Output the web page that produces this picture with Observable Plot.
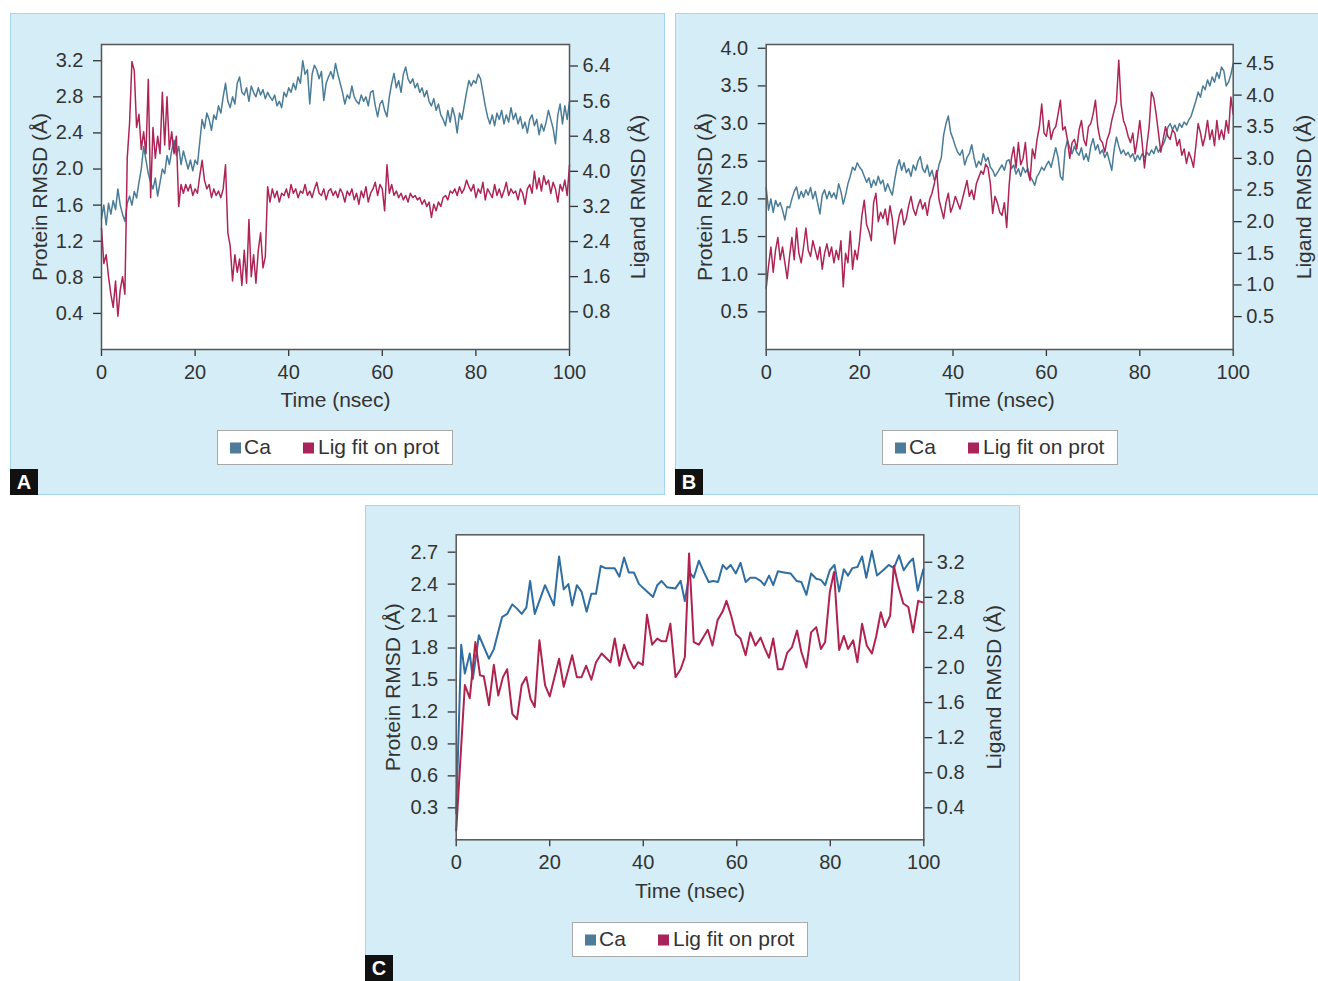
<!DOCTYPE html>
<html><head><meta charset="utf-8">
<script src="https://cdn.jsdelivr.net/npm/d3@7"></script>
<script src="https://cdn.jsdelivr.net/npm/@observablehq/plot@0.6"></script>
<style>
body{margin:0;background:#fff;font-family:"Liberation Sans",Arial,sans-serif;}
#page{position:relative;width:1318px;height:981px;overflow:hidden;}
.panel{position:absolute;background:#d5edf7;outline:1px solid #a6d6ee;outline-offset:-1px;}
.panel svg{position:absolute;left:0;top:0;}
.legend{position:absolute;left:207px;top:417px;width:236px;height:35px;background:#fff;border:1.5px solid #a9a9a9;box-sizing:border-box;font-size:21px;color:#333;}
.legend span{position:absolute;top:50%;transform:translateY(-56%);}
.legend span.sw{transform:translateY(-50%);}
.sw{width:11px;height:11px;}
.tag{position:absolute;left:0;background:#111;color:#fff;font-weight:bold;font-size:20px;width:28px;height:26px;text-align:center;line-height:27px;}
</style></head>
<body><div id="page"></div>
<script>
// ---------- data ----------
const xTicks = [0, 20, 40, 60, 80, 100];
const legendLabels = ["Ca", "Lig fit on prot"];
const yLabelLeft = "Protein RMSD (Å)";
const yLabelRight = "Ligand RMSD (Å)";
const xLabel = "Time (nsec)";

// Panel A (sampled every 0.5 ns, 0–100 ns)
const aCa = [
1.45,1.60,1.38,1.62,1.50,1.65,1.55,1.78,1.60,1.50,
1.42,1.62,1.70,1.60,1.75,1.68,1.85,2.00,2.25,2.10,
1.95,1.85,1.78,1.90,1.70,1.85,2.00,1.95,2.15,2.05,
2.20,2.32,2.15,2.25,2.05,2.20,2.10,2.00,2.10,1.98,
2.10,2.05,2.30,2.55,2.45,2.62,2.55,2.43,2.60,2.55,
2.70,2.62,2.80,2.95,2.75,2.68,2.80,2.72,2.95,3.02,
2.85,2.82,2.90,2.75,2.92,2.85,2.80,2.90,2.82,2.88,
2.78,2.85,2.80,2.76,2.82,2.70,2.75,2.68,2.85,2.80,
2.90,2.85,2.95,2.88,3.02,2.95,3.20,3.05,3.10,2.72,
3.05,3.15,3.10,3.00,3.08,2.76,2.95,3.02,3.08,3.00,
3.17,3.05,2.95,2.85,2.72,2.82,2.78,2.92,2.80,2.75,
2.72,2.82,2.75,2.80,2.70,2.85,2.87,2.70,2.58,2.72,
2.76,2.65,2.58,2.80,2.95,3.06,2.90,2.98,2.85,3.05,
3.13,3.00,2.95,3.00,2.90,2.95,2.85,2.90,2.80,2.87,
2.75,2.70,2.78,2.65,2.72,2.60,2.55,2.48,2.65,2.52,
2.68,2.58,2.40,2.62,2.55,2.70,2.85,2.98,2.92,2.98,
2.95,3.05,3.00,2.85,2.70,2.58,2.50,2.60,2.48,2.62,
2.55,2.65,2.50,2.60,2.52,2.68,2.55,2.62,2.50,2.58,
2.45,2.52,2.40,2.55,2.60,2.48,2.55,2.38,2.50,2.42,
2.52,2.65,2.55,2.45,2.28,2.60,2.72,2.50,2.70,2.55,
2.75];
const aLig = [
2.70,1.90,2.10,1.60,1.20,0.90,1.50,0.70,1.30,1.60,
1.20,4.30,5.10,6.50,6.30,5.00,5.30,4.50,4.90,4.40,
6.10,3.40,5.00,4.30,4.80,4.40,5.80,4.60,5.70,4.50,
4.90,4.40,4.80,3.20,3.70,3.50,3.70,3.55,3.70,3.45,
3.60,3.50,3.90,4.25,3.80,3.60,3.70,3.40,3.60,3.45,
3.55,3.40,3.60,4.15,2.60,2.30,1.50,2.10,1.70,2.00,
1.40,2.20,1.45,2.90,1.60,2.10,1.45,2.20,2.60,1.80,
2.05,3.65,3.30,3.60,3.40,3.55,3.30,3.50,3.45,3.60,
3.40,3.70,3.50,3.60,3.40,3.55,3.50,3.70,3.45,3.55,
3.40,3.60,3.75,3.50,3.45,3.60,3.35,3.55,3.60,3.45,
3.55,3.40,3.60,3.50,3.30,3.55,3.45,3.60,3.35,3.50,
3.25,3.55,3.40,3.65,3.30,3.50,3.60,3.75,3.45,3.70,
3.60,3.10,4.15,3.50,3.70,3.45,3.55,3.40,3.50,3.35,
3.45,3.30,3.50,3.40,3.45,3.35,3.40,3.25,3.35,3.20,
3.30,2.95,3.25,3.10,3.30,3.20,3.40,3.45,3.35,3.55,
3.50,3.60,3.45,3.65,3.50,3.60,3.80,3.65,3.55,3.70,
3.40,3.60,3.50,3.75,3.35,3.60,3.50,3.40,3.70,3.45,
3.60,3.40,3.55,3.75,3.45,3.60,3.50,3.55,3.35,3.60,
3.50,3.25,3.60,3.70,3.50,4.00,3.60,3.85,3.55,3.90,
3.70,3.80,3.50,3.75,3.60,3.30,3.70,3.55,3.80,3.45,
4.15];

// Panel B (sampled every 0.5 ns, 0–100 ns)
const bCa = [
2.15,1.85,2.00,1.82,1.98,1.90,1.95,1.85,1.72,1.90,
1.88,2.00,2.10,2.16,2.00,2.10,2.02,2.12,2.05,2.15,
2.00,2.10,1.95,1.80,2.05,2.12,2.00,2.10,2.02,2.08,
2.00,2.20,2.10,1.93,2.05,2.20,2.30,2.42,2.38,2.48,
2.42,2.38,2.30,2.22,2.28,2.15,2.25,2.18,2.30,2.20,
2.25,2.10,2.20,2.12,2.05,2.25,2.42,2.52,2.38,2.48,
2.35,2.40,2.30,2.45,2.38,2.50,2.56,2.40,2.35,2.45,
2.30,2.38,2.25,2.30,2.45,2.55,2.85,3.00,3.10,2.88,
2.80,2.70,2.62,2.58,2.65,2.45,2.55,2.60,2.72,2.55,
2.42,2.50,2.45,2.60,2.50,2.55,2.42,2.38,2.30,2.35,
2.40,2.45,2.38,2.50,2.52,2.40,2.45,2.33,2.40,2.30,
2.42,2.35,2.40,2.30,2.25,2.18,2.30,2.35,2.42,2.38,
2.45,2.50,2.42,2.55,2.68,2.55,2.30,2.25,2.65,2.78,
2.68,2.60,2.70,2.62,2.58,2.68,2.52,2.60,2.50,2.70,
2.80,2.65,2.72,2.60,2.65,2.55,2.62,2.50,2.38,2.65,
2.82,2.70,2.60,2.65,2.58,2.62,2.55,2.60,2.50,2.58,
2.52,2.60,2.55,2.62,2.58,2.65,2.60,2.70,2.62,2.68,
2.72,2.80,2.95,3.00,2.92,2.98,2.90,3.00,2.95,3.02,
2.98,3.05,3.10,3.20,3.30,3.42,3.35,3.50,3.45,3.58,
3.50,3.62,3.55,3.68,3.60,3.75,3.70,3.50,3.55,3.65,
3.80];
const bLig = [
0.95,1.30,1.60,1.20,1.55,1.75,1.40,1.60,1.35,1.10,
1.45,1.75,1.40,1.90,1.50,1.35,1.60,1.90,1.55,1.45,
1.70,1.55,1.40,1.60,1.25,1.50,1.65,1.45,1.60,1.35,
1.55,1.40,1.70,0.97,1.50,1.35,1.85,1.25,1.55,1.40,
1.70,2.10,2.34,1.95,1.85,1.70,2.30,2.45,2.00,2.15,
2.05,2.20,1.95,2.25,2.05,1.65,1.90,2.10,2.20,1.95,
2.05,2.25,2.40,2.20,2.10,2.25,2.35,2.20,2.30,2.10,
2.35,2.45,2.60,2.81,2.35,2.20,2.05,2.30,2.45,2.15,
2.25,2.40,2.30,2.20,2.35,2.50,2.65,2.40,2.50,2.35,
2.60,2.70,2.80,2.75,2.91,2.85,2.60,2.13,2.40,2.30,
2.15,2.10,2.30,1.91,2.55,3.00,3.18,2.85,3.25,2.90,
3.00,3.25,2.80,2.65,3.15,3.00,3.30,3.50,3.86,3.40,
3.35,3.60,3.30,3.45,3.50,3.70,3.92,3.45,3.50,3.30,
3.00,3.25,3.30,3.15,3.45,3.60,3.30,3.20,3.50,3.55,
3.70,3.92,3.50,3.30,3.25,3.10,3.30,3.40,3.60,3.75,
3.90,4.55,3.85,3.60,3.50,3.35,3.25,3.40,3.07,3.30,
3.60,3.25,2.85,3.20,3.50,4.05,3.95,3.70,3.40,3.10,
3.30,3.50,3.35,3.30,3.45,3.40,3.20,3.30,3.05,3.15,
2.92,3.10,3.00,2.86,3.20,3.55,3.40,3.20,3.35,3.60,
3.30,3.45,3.20,3.60,3.30,3.45,3.30,3.60,3.40,3.97,
3.70];

// Panel C
const cCaTime = [0,1.07,1.85,2.9,3.56,4.85,7.0,8.05,9.8,10.9,12.0,13.0,14.0,15.0,15.8,16.8,19.0,20.9,22.0,23.0,24.0,24.8,25.8,26.8,27.9,28.9,29.9,30.9,31.9,33.9,34.9,35.9,36.9,38.0,39.1,41.1,42.1,43.0,43.9,45.1,46.9,48.0,48.9,49.9,50.8,51.9,53.0,54.0,55.0,56.0,57.0,57.8,58.7,59.8,60.8,61.9,62.9,64.0,65.1,65.9,66.9,67.8,68.8,70.1,71.5,72.8,73.8,74.9,75.9,77.0,78.0,78.9,79.9,80.9,81.9,82.9,83.8,84.7,85.8,86.8,87.7,88.9,90.0,91.3,92.5,93.6,94.7,95.7,96.8,97.7,98.7,99.9];
const cCa = [0.25,1.83,1.56,1.75,1.51,1.92,1.70,1.79,2.09,2.12,2.21,2.17,2.12,2.18,2.43,2.12,2.39,2.20,2.66,2.35,2.40,2.20,2.39,2.33,2.14,2.31,2.31,2.57,2.55,2.55,2.47,2.65,2.51,2.51,2.40,2.32,2.28,2.39,2.43,2.37,2.36,2.43,2.24,2.51,2.46,2.62,2.51,2.42,2.43,2.42,2.58,2.54,2.58,2.50,2.60,2.42,2.46,2.46,2.43,2.39,2.48,2.39,2.52,2.51,2.50,2.43,2.42,2.30,2.50,2.45,2.44,2.39,2.53,2.58,2.33,2.54,2.48,2.55,2.56,2.66,2.46,2.71,2.48,2.53,2.58,2.55,2.67,2.53,2.60,2.64,2.34,2.54];
const cLigTime = [0,1.85,2.9,4.1,5.1,5.9,7.0,8.05,9.0,10.0,10.9,12.0,13.0,14.0,15.0,15.9,16.8,17.8,19.0,20.0,22.0,23.0,24.8,25.8,26.8,27.8,28.9,29.9,31.1,33.0,33.9,34.9,35.9,36.9,38.0,38.9,39.9,40.8,41.9,43.0,43.9,44.9,45.8,46.9,48.0,48.9,49.8,50.8,51.9,53.0,53.8,54.8,55.9,57.0,57.8,58.8,59.8,60.8,61.9,62.9,64.0,65.1,65.9,66.9,67.8,68.8,69.8,70.8,71.8,72.9,73.8,74.9,75.9,77.0,78.0,78.9,79.9,80.8,81.9,82.9,83.8,84.9,85.8,86.8,87.8,88.9,89.8,90.8,91.7,92.8,93.6,94.5,95.6,96.7,97.7,98.8,99.9];
const cLig = [0.14,1.80,1.65,2.29,1.91,1.90,1.57,2.03,1.68,1.89,1.98,1.47,1.41,1.80,1.89,1.64,1.55,2.31,1.80,1.67,2.10,1.78,2.14,1.89,1.89,2.02,1.86,2.06,2.16,2.06,2.33,2.02,2.26,2.10,1.99,2.06,2.03,2.60,2.26,2.33,2.30,2.30,2.50,1.89,1.98,2.12,3.30,2.29,2.26,2.36,2.43,2.25,2.54,2.64,2.76,2.59,2.38,2.33,2.14,2.40,2.25,2.34,2.23,2.11,2.33,1.98,1.98,2.17,2.23,2.42,2.18,2.00,2.40,2.46,2.21,2.29,2.86,3.09,2.20,2.36,2.21,2.31,2.06,2.50,2.25,2.16,2.35,2.63,2.46,2.59,3.16,2.94,2.73,2.69,2.40,2.76,2.74];

// axis tick values
const aLeftTicks = [0.4,0.8,1.2,1.6,2.0,2.4,2.8,3.2];
const aRightTicks = [0.8,1.6,2.4,3.2,4.0,4.8,5.6,6.4];
const bLeftTicks = [0.5,1.0,1.5,2.0,2.5,3.0,3.5,4.0];
const bRightTicks = [0.5,1.0,1.5,2.0,2.5,3.0,3.5,4.0,4.5];
const cLeftTicks = [0.3,0.6,0.9,1.2,1.5,1.8,2.1,2.4,2.7];
const cRightTicks = [0.4,0.8,1.2,1.6,2.0,2.4,2.8,3.2];

// ---------- drawing ----------
const FONT = '"Liberation Sans", Arial, Helvetica, sans-serif';
const evenTimes = arr => arr.map((_, i) => i * 100 / (arr.length - 1));

function makePlot(cfg) {
  const [l0, l1] = cfg.leftDomain, [r0, r1] = cfg.rightDomain;
  const toLeft = v => l0 + (v - r0) / (r1 - r0) * (l1 - l0);
  const fromLeft = y => r0 + (y - l0) / (l1 - l0) * (r1 - r0);
  const ca = cfg.caT.map((t, i) => ({t, v: cfg.caV[i]}));
  const lig = cfg.ligT.map((t, i) => ({t, v: toLeft(cfg.ligV[i])}));
  return Plot.plot({
    width: cfg.width, height: cfg.height,
    marginLeft: cfg.ml, marginRight: cfg.mr, marginTop: cfg.mt, marginBottom: cfg.mb,
    style: {background: "transparent", fontFamily: FONT, fontSize: "20px", color: "#333", overflow: "visible"},
    x: {domain: [0, 100]},
    y: {domain: [l0, l1]},
    marks: [
      Plot.frame({fill: "white", stroke: null}),
      Plot.line(ca, {x: "t", y: "v", stroke: cfg.caColor, strokeWidth: cfg.sw, strokeLinejoin: "round"}),
      Plot.line(lig, {x: "t", y: "v", stroke: cfg.ligColor, strokeWidth: cfg.sw, strokeLinejoin: "round"}),
      Plot.axisX(xTicks, {tickSize: 7, tickPadding: 8, fontSize: 20, label: null, strokeWidth: 1.3}),
      Plot.axisY(cfg.leftTicks, {anchor: "left", tickSize: 8, tickPadding: 10, fontSize: 20, label: null, strokeWidth: 1.3, tickFormat: d => d.toFixed(1)}),
      Plot.axisY(cfg.rightTicks.map(toLeft), {anchor: "right", tickSize: 8, tickPadding: 5, fontSize: 20, label: null, strokeWidth: 1.3, tickFormat: d => fromLeft(d).toFixed(1)}),
      Plot.frame({stroke: "#555", strokeWidth: 1.5}),
      Plot.text([yLabelLeft], {text: d => d, frameAnchor: "left", rotate: -90, dx: cfg.ldx, fontSize: 21, textAnchor: "middle", lineAnchor: "middle", fill: "#333"}),
      Plot.text([yLabelRight], {text: d => d, frameAnchor: "right", rotate: -90, dx: cfg.rdx, fontSize: 21, textAnchor: "middle", lineAnchor: "middle", fill: "#333"}),
      Plot.text([xLabel], {text: d => d, frameAnchor: "bottom", dy: 51, fontSize: 21, textAnchor: "middle", lineAnchor: "middle", fill: "#333"})
    ]
  });
}

const panels = [
  {tag: "A", left: 10, top: 13, w: 655, h: 482, tagTop: 456,
   plot: {width: 655, height: 410, ml: 91, mr: 96, mt: 31, mb: 74, ldx: -61, rdx: 69,
     leftDomain: [0, 3.38], rightDomain: [-0.06, 6.89], leftTicks: aLeftTicks, rightTicks: aRightTicks,
     caT: evenTimes(aCa), caV: aCa, ligT: evenTimes(aLig), ligV: aLig,
     caColor: "#4a7c98", ligColor: "#ad2557", sw: 1.5}},
  {tag: "B", left: 675, top: 13, w: 650, h: 482, tagTop: 456,
   plot: {width: 643, height: 410, ml: 90.7, mr: 85.3, mt: 31, mb: 74, ldx: -61, rdx: 71,
     leftDomain: [0, 4.05], rightDomain: [-0.02, 4.8], leftTicks: bLeftTicks, rightTicks: bRightTicks,
     caT: evenTimes(bCa), caV: bCa, ligT: evenTimes(bLig), ligV: bLig,
     caColor: "#4a7c98", ligColor: "#ad2557", sw: 1.5}},
  {tag: "C", left: 365, top: 505, w: 655, h: 490, tagTop: 450,
   plot: {width: 655, height: 410, ml: 90.7, mr: 96.7, mt: 29.3, mb: 75.7, ldx: -63, rdx: 70,
     leftDomain: [0, 2.863], rightDomain: [0.035, 3.513], leftTicks: cLeftTicks, rightTicks: cRightTicks,
     caT: cCaTime, caV: cCa, ligT: cLigTime, ligV: cLig,
     caColor: "#2f6ea3", ligColor: "#b0234f", sw: 2}}
];

const page = document.getElementById("page");
for (const p of panels) {
  const div = document.createElement("div");
  div.className = "panel";
  Object.assign(div.style, {left: p.left + "px", top: p.top + "px", width: p.w + "px", height: p.h + "px"});
  div.appendChild(makePlot(p.plot));
  const leg = document.createElement("div");
  leg.className = "legend";
  leg.innerHTML =
    `<span class="sw" style="left:12px;background:#4f7b9b"></span>` +
    `<span style="left:26px">${legendLabels[0]}</span>` +
    `<span class="sw" style="left:85px;background:#a8245a"></span>` +
    `<span style="left:100px">${legendLabels[1]}</span>`;
  div.appendChild(leg);
  const tag = document.createElement("div");
  tag.className = "tag";
  tag.style.top = p.tagTop + "px";
  tag.textContent = p.tag;
  div.appendChild(tag);
  page.appendChild(div);
}
</script>
</body></html>
